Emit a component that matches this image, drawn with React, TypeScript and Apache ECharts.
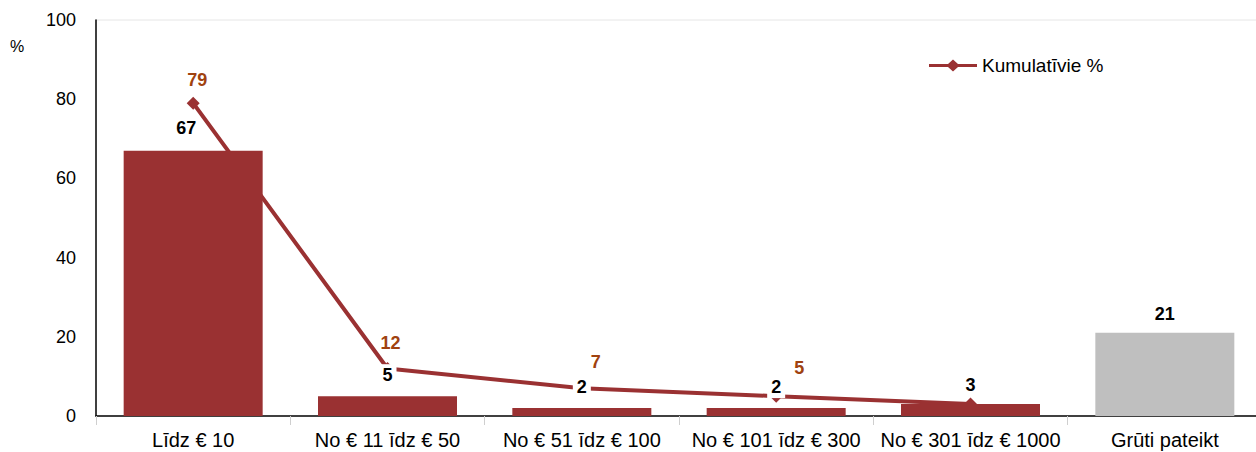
import React, { useEffect, useRef } from "react";
import * as echarts from "echarts";

const categories = [
  "Līdz € 10",
  "No € 11 īdz € 50",
  "No € 51 īdz € 100",
  "No € 101 īdz € 300",
  "No € 301 īdz € 1000",
  "Grūti pateikt",
];
const barValues = [67, 5, 2, 2, 3, 21];
const cumulativeValues = [79, 12, 7, 5, 3, null];
const yTicks = { min: 0, max: 100, interval: 20 };
const seriesName = "Kumulatīvie %";

const FONT = "'Liberation Sans', Arial, sans-serif";
const RED = "#9a3132";
const GREY = "#bfbfbf";
const LINE_LABEL = "#a0420f";
const LEGEND_ICON =
  "path://M0,4.5 L19,4.5 L24,0 L29,4.5 L48,4.5 L48,7.5 L29,7.5 L24,12 L19,7.5 L0,7.5 Z";

export default function App() {
  const ref = useRef<HTMLDivElement>(null);
  useEffect(() => {
    if (!ref.current) return;
    const chart = echarts.init(ref.current, undefined, { renderer: "svg" });
    const lineOffsets = [[4, -3], [3, -5], [14, -6], [23, -8], [0, 0]];
    const barOffsets = [[-7, -4], [0, -2], [0, -2], [0, -2], [0, 0], [0, 0]];
    chart.setOption({
      animation: false,
      textStyle: { fontFamily: FONT },
      grid: {
        left: 96,
        width: 1166,
        top: 20,
        bottom: 36,
        containLabel: false,
        outerBoundsMode: "none",
      },
      legend: {
        left: 924,
        top: 51,
        itemWidth: 48,
        itemHeight: 12,
        itemGap: 0,
        textStyle: { fontSize: 19, color: "#000", fontFamily: FONT },
        data: [{ name: seriesName, icon: LEGEND_ICON, itemStyle: { color: RED } }],
      },
      graphic: [
        { type: "text", left: 10, top: 38, style: { text: "%", fontSize: 16, fill: "#000", fontFamily: FONT } },
        { type: "line", shape: { x1: 96, y1: 20, x2: 1256, y2: 20 }, style: { stroke: "#e6e6e6", lineWidth: 1 } },
      ],
      xAxis: {
        type: "category",
        data: categories,
        axisLine: { lineStyle: { color: "#000", width: 1.5 } },
        axisTick: { show: true, length: 9, lineStyle: { color: "#cfcfcf" } },
        axisLabel: { fontSize: 20, color: "#000", margin: 14, fontFamily: FONT, interval: 0 },
      },
      yAxis: {
        type: "value",
        min: yTicks.min,
        max: yTicks.max,
        interval: yTicks.interval,
        axisLine: { show: true, lineStyle: { color: "#000", width: 1.5 } },
        axisTick: { show: false },
        splitLine: { show: false },
        axisLabel: { fontSize: 18, color: "#000", margin: 20, fontFamily: FONT },
      },
      series: [
        {
          type: "bar",
          name: "bars",
          z: 5,
          barWidth: 139,
          data: barValues.map((v, i) => ({
            value: v,
            itemStyle: { color: i === barValues.length - 1 ? GREY : RED },
            label: { offset: barOffsets[i] },
          })),
          label: {
            show: true,
            position: "top",
            distance: 8,
            fontSize: 18,
            fontWeight: "bold",
            color: "#000",
            backgroundColor: "#fff",
            padding: [2, 4],
            fontFamily: FONT,
          },
        },
        {
          type: "line",
          name: seriesName,
          z: 1,
          symbol: "diamond",
          symbolSize: 13,
          lineStyle: { color: RED, width: 4 },
          itemStyle: { color: RED },
          data: cumulativeValues.map((v, i) => ({
            value: v,
            label: { offset: lineOffsets[i], show: i < 4 },
          })),
          label: {
            show: true,
            position: "top",
            distance: 5,
            fontSize: 18,
            fontWeight: "bold",
            color: LINE_LABEL,
            fontFamily: FONT,
          },
        },
      ],
    });
    return () => chart.dispose();
  }, []);
  return (
    <div
      ref={ref}
      style={{ position: "fixed", left: 0, top: 0, width: 1256, height: 452, background: "#fff" }}
    />
  );
}
